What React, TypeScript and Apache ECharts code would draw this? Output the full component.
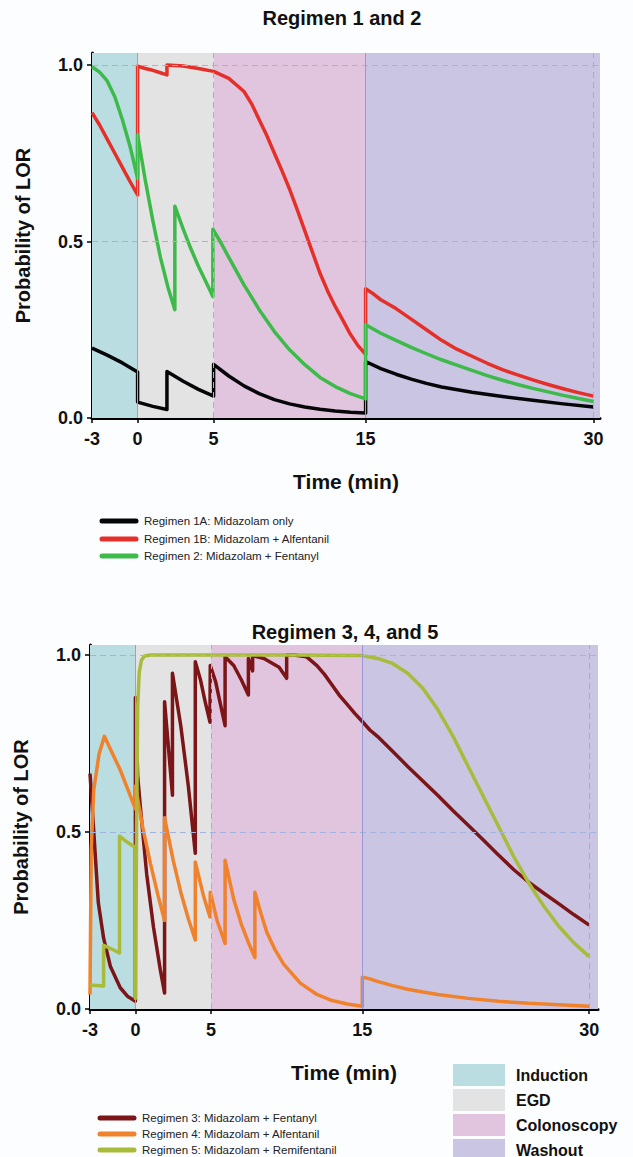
import React, { useEffect, useRef } from "react";
import * as echarts from "echarts";

type Pt = [number, number];

const FONT = '"Liberation Sans", Arial, Helvetica, sans-serif';

const X_TICKS = [-3, 0, 5, 15, 30];
const Y_TICKS = [0, 0.5, 1];

const PHASES = [
  { name: "Induction", from: -3, to: 0, color: "#b9dde0" },
  { name: "EGD", from: 0, to: 5, color: "#e3e3e3" },
  { name: "Colonoscopy", from: 5, to: 15, color: "#e1c5df" },
  { name: "Washout", from: 15, to: 31, color: "#c9c5e3" },
];

const TITLE_1 = "Regimen 1 and 2";
const TITLE_2 = "Regimen 3, 4, and 5";

// Panel 1 series [time (min), probability of LOR]
const R1A: Pt[] = [
  [-3, 0.198], [-2, 0.178], [-1, 0.156], [0, 0.13], [0, 0.045], [1, 0.033], [1.93, 0.024],
  [1.93, 0.132], [3, 0.104], [4, 0.081], [5, 0.062], [5, 0.152], [6, 0.119], [7, 0.091],
  [8, 0.069], [9, 0.052], [10, 0.04], [11, 0.031], [12, 0.025], [13, 0.02], [14, 0.016],
  [15, 0.014], [15, 0.16], [16, 0.14], [17, 0.124], [18, 0.11], [19, 0.098], [20, 0.088],
  [22, 0.073], [24, 0.061], [26, 0.05], [28, 0.04], [30, 0.031],
];
const R1B: Pt[] = [
  [-3, 0.865], [-2.5, 0.83], [-2, 0.79], [-1.5, 0.75], [-1, 0.71], [-0.5, 0.67], [0, 0.632],
  [0, 0.997], [0.5, 0.99], [1, 0.985], [1.5, 0.978], [1.93, 0.972], [1.93, 1.0], [3, 0.997],
  [4, 0.99], [5, 0.982], [6, 0.962], [7, 0.925], [7.5, 0.89], [8, 0.845], [8.5, 0.8], [9, 0.75],
  [9.5, 0.7], [10, 0.648], [10.5, 0.59], [11, 0.53], [11.5, 0.47], [12, 0.41], [12.5, 0.36],
  [13, 0.316], [13.5, 0.277], [14, 0.237], [14.5, 0.205], [15, 0.18], [15, 0.366], [15.4, 0.355],
  [16, 0.335], [17, 0.31], [18, 0.28], [19, 0.25], [20, 0.22], [21, 0.195], [22, 0.175],
  [23, 0.155], [24, 0.137], [25, 0.122], [26, 0.108], [27, 0.095], [28, 0.083], [29, 0.072],
  [30, 0.062],
];
const R2: Pt[] = [
  [-3, 0.995], [-2.5, 0.98], [-2, 0.955], [-1.5, 0.91], [-1, 0.845], [-0.5, 0.77], [0, 0.679],
  [0, 0.802], [0.5, 0.675], [1, 0.56], [1.5, 0.455], [2, 0.37], [2.45, 0.307], [2.45, 0.6],
  [3, 0.535], [3.5, 0.48], [4, 0.43], [4.5, 0.385], [4.95, 0.344], [4.95, 0.535], [5.5, 0.495],
  [6, 0.455], [7, 0.377], [8, 0.307], [9, 0.245], [10, 0.193], [11, 0.151], [12, 0.115],
  [13, 0.089], [14, 0.069], [15, 0.054], [15, 0.264], [16, 0.24], [17, 0.22], [18, 0.2],
  [19, 0.182], [20, 0.165], [21, 0.15], [22, 0.135], [23, 0.12], [24, 0.107], [25, 0.095],
  [26, 0.084], [27, 0.074], [28, 0.064], [29, 0.055], [30, 0.047],
];

// Panel 2 series
const R3: Pt[] = [
  [-3, 0.665], [-2.75, 0.5], [-2.45, 0.3], [-2.1, 0.2], [-1.65, 0.12], [-1, 0.06], [-0.5, 0.035],
  [0, 0.022], [0, 0.88], [0.15, 0.66], [0.35, 0.56], [0.75, 0.38], [1.2, 0.23], [1.65, 0.11],
  [1.93, 0.045], [1.93, 0.868], [2.45, 0.604], [2.45, 0.948], [3, 0.8], [3.5, 0.63], [3.96, 0.44],
  [3.96, 0.981], [4.3, 0.93], [4.6, 0.87], [4.93, 0.81], [4.95, 0.97], [5.3, 0.925], [5.6, 0.865],
  [5.93, 0.8], [5.93, 0.995], [6.5, 0.97], [7, 0.93], [7.47, 0.887], [7.47, 0.99], [7.75, 0.955],
  [7.75, 0.998], [8.5, 0.99], [9.5, 0.965], [10, 0.934], [10, 1.0], [10.5, 1.0], [11.3, 0.995],
  [12, 0.97], [12.5, 0.945], [13, 0.915], [13.5, 0.885], [14, 0.86], [14.5, 0.835], [15, 0.812],
  [15.5, 0.788], [16, 0.77], [17, 0.728], [18, 0.685], [19, 0.644], [20, 0.603], [21, 0.56],
  [22, 0.519], [23, 0.477], [24, 0.435], [25, 0.394], [26, 0.358], [27, 0.327], [28, 0.297],
  [29, 0.266], [30, 0.237],
];
const R4: Pt[] = [
  [-3, 0.04], [-2.92, 0.45], [-2.75, 0.62], [-2.4, 0.72], [-2.05, 0.77], [-1.5, 0.72], [-1, 0.675],
  [-0.5, 0.62], [0, 0.565], [0, 0.63], [0.5, 0.51], [1, 0.41], [1.5, 0.32], [1.93, 0.25],
  [1.93, 0.54], [2.5, 0.42], [3, 0.33], [3.5, 0.255], [3.96, 0.195], [3.96, 0.415], [4.5, 0.32],
  [4.93, 0.26], [4.95, 0.33], [5.4, 0.25], [5.93, 0.185], [5.93, 0.42], [6.5, 0.31], [7, 0.24],
  [7.5, 0.185], [7.9, 0.145], [7.9, 0.33], [8.3, 0.27], [8.7, 0.215], [9.2, 0.17], [9.8, 0.127],
  [10.9, 0.073], [12, 0.041], [13, 0.024], [14, 0.014], [15, 0.008], [15, 0.09], [15.5, 0.085],
  [16, 0.078], [17, 0.066], [18, 0.056], [19, 0.048], [20, 0.041], [22, 0.03], [24, 0.022],
  [26, 0.016], [28, 0.012], [30, 0.008],
];
const R5: Pt[] = [
  [-3, 0.068], [-2.1, 0.065], [-2.1, 0.18], [-1.6, 0.17], [-1.05, 0.158], [-1.05, 0.488],
  [-0.5, 0.47], [0, 0.456], [0, 0.03], [0.08, 0.5], [0.15, 0.85], [0.25, 0.95], [0.4, 0.985],
  [0.6, 0.997], [1, 1.0], [5, 1.0], [10, 1.0], [15, 0.998], [16, 0.99], [17, 0.976], [18, 0.948],
  [19, 0.906], [20, 0.845], [21, 0.77], [22, 0.685], [23, 0.6], [24, 0.516], [25, 0.431],
  [26, 0.356], [27, 0.29], [28, 0.233], [29, 0.186], [30, 0.148],
];

const SERIES_1 = [
  { name: "Regimen 1A: Midazolam only", data: R1A, color: "#060608" },
  { name: "Regimen 1B: Midazolam + Alfentanil", data: R1B, color: "#e5302a" },
  { name: "Regimen 2: Midazolam + Fentanyl", data: R2, color: "#3dba49" },
];
const SERIES_2 = [
  { name: "Regimen 3: Midazolam + Fentanyl", data: R3, color: "#7b1517" },
  { name: "Regimen 4: Midazolam + Alfentanil", data: R4, color: "#f0822c" },
  { name: "Regimen 5: Midazolam + Remifentanil", data: R5, color: "#a9bb3a" },
];

export default function App() {
  const ref = useRef<HTMLDivElement>(null);

  useEffect(() => {
    document.body.style.margin = "0";
    const chart = echarts.init(ref.current!, null, { renderer: "svg" });

    const grids = [
      { left: 92, top: 53, width: 508, height: 365 },
      { left: 90, top: 645, width: 508, height: 364 },
    ];
    const xMax = [30.42, 30.58];
    const yMax = [1.034, 1.028];

    const xAxis = [0, 1].map((i) => ({
      type: "value",
      gridIndex: i,
      min: -3,
      max: xMax[i],
      axisLine: { show: true, onZero: false, lineStyle: { color: "#000", width: 3 } },
      axisTick: { show: true, customValues: X_TICKS, length: 5, lineStyle: { color: "#000", width: 1.5 } },
      axisLabel: {
        customValues: X_TICKS,
        fontFamily: FONT,
        fontWeight: "bold",
        fontSize: 18,
        color: "#111",
        margin: 12,
      },
      splitLine: { show: false },
      name: "Time (min)",
      nameLocation: "middle",
      nameGap: 53,
      nameTextStyle: { fontFamily: FONT, fontWeight: "bold", fontSize: 21, color: "#111" },
    }));

    const yAxis = [0, 1].map((i) => ({
      type: "value",
      gridIndex: i,
      min: 0,
      max: yMax[i],
      axisLine: { show: true, onZero: false, lineStyle: { color: "#000", width: 3 } },
      axisTick: { show: true, customValues: Y_TICKS, length: 5, lineStyle: { color: "#000", width: 1.5 } },
      axisLabel: {
        customValues: Y_TICKS,
        formatter: (v: number) => v.toFixed(1),
        fontFamily: FONT,
        fontWeight: "bold",
        fontSize: 18,
        color: "#111",
        margin: 9,
      },
      splitLine: { show: false },
      name: "Probability of LOR",
      nameLocation: "middle",
      nameGap: 59,
      nameTextStyle: { fontFamily: FONT, fontWeight: "bold", fontSize: 20, color: "#111" },
    }));

    const bgSeries = [0, 1].map((i) => ({
      type: "line",
      name: "bg" + i,
      xAxisIndex: i,
      yAxisIndex: i,
      data: [],
      z: 1,
      silent: true,
      markArea: {
        silent: true,
        data: PHASES.map((p) => [
          { xAxis: p.from, itemStyle: { color: p.color, opacity: 1 } },
          { xAxis: Math.min(p.to, xMax[i]) },
        ]),
      },
      markLine: {
        silent: true,
        symbol: "none",
        label: { show: false },
        data: [
          { yAxis: 1, lineStyle: { color: "#a3b3df", type: [6, 4], width: 1 } },
          { yAxis: 0.5, lineStyle: { color: "#a3b3df", type: [6, 4], width: 1 } },
          { xAxis: 0, lineStyle: { color: "#86aebf", type: "solid", width: 1 } },
          { xAxis: 5, lineStyle: { color: "#9fb6bf", type: [6, 4], width: 1 } },
          { xAxis: 15, lineStyle: { color: "#9a98d2", type: "solid", width: 1 } },
          { xAxis: 30, lineStyle: { color: "#a2a8e2", type: [6, 4], width: 1 } },
        ],
      },
    }));

    const mkLines = (list: typeof SERIES_1, idx: number) =>
      list.map((s) => ({
        type: "line",
        name: s.name,
        xAxisIndex: idx,
        yAxisIndex: idx,
        data: s.data,
        showSymbol: false,
        symbol: "none",
        z: 3,
        lineStyle: { color: s.color, width: 3.5, join: "round" },
        itemStyle: { color: s.color },
      }));

    const legendGraphics: any[] = [];
    const addLegend = (list: typeof SERIES_1, x: number, ys: number[]) => {
      list.forEach((s, k) => {
        legendGraphics.push({
          type: "line",
          shape: { x1: x, y1: ys[k], x2: x + 34, y2: ys[k] },
          style: { stroke: s.color, lineWidth: 5, lineCap: "round" },
        });
        legendGraphics.push({
          type: "text",
          x: x + 42,
          y: ys[k],
          style: {
            text: s.name,
            fontFamily: FONT,
            fontSize: 11.5,
            fill: "#222",
            verticalAlign: "middle",
            align: "left",
          },
        });
      });
    };
    addLegend(SERIES_1, 102, [521, 539, 556]);
    addLegend(SERIES_2, 100, [1118, 1134, 1150]);

    PHASES.forEach((p, k) => {
      const cy = 1075 + k * 25;
      legendGraphics.push({
        type: "rect",
        shape: { x: 453, y: cy - 11, width: 52, height: 22 },
        style: { fill: p.color },
      });
      legendGraphics.push({
        type: "text",
        x: 516,
        y: cy,
        style: {
          text: p.name,
          fontFamily: FONT,
          fontSize: 16,
          fontWeight: "bold",
          fill: "#111",
          verticalAlign: "middle",
          align: "left",
        },
      });
    });

    const titleGraphics = [
      { text: TITLE_1, x: 342, y: 18 },
      { text: TITLE_2, x: 345, y: 632 },
    ].map((t) => ({
      type: "text",
      x: t.x,
      y: t.y,
      style: {
        text: t.text,
        fontFamily: FONT,
        fontSize: 20,
        fontWeight: "bold",
        fill: "#111",
        align: "center",
        verticalAlign: "middle",
      },
    }));

    chart.setOption({
      animation: false,
      backgroundColor: "#fcfdff",
      textStyle: { fontFamily: FONT },
      grid: grids,
      xAxis,
      yAxis,
      series: [...bgSeries, ...mkLines(SERIES_1, 0), ...mkLines(SERIES_2, 1)],
      graphic: [...titleGraphics, ...legendGraphics],
    } as any);

    return () => chart.dispose();
  }, []);

  return <div ref={ref} style={{ width: 633, height: 1157 }} />;
}
